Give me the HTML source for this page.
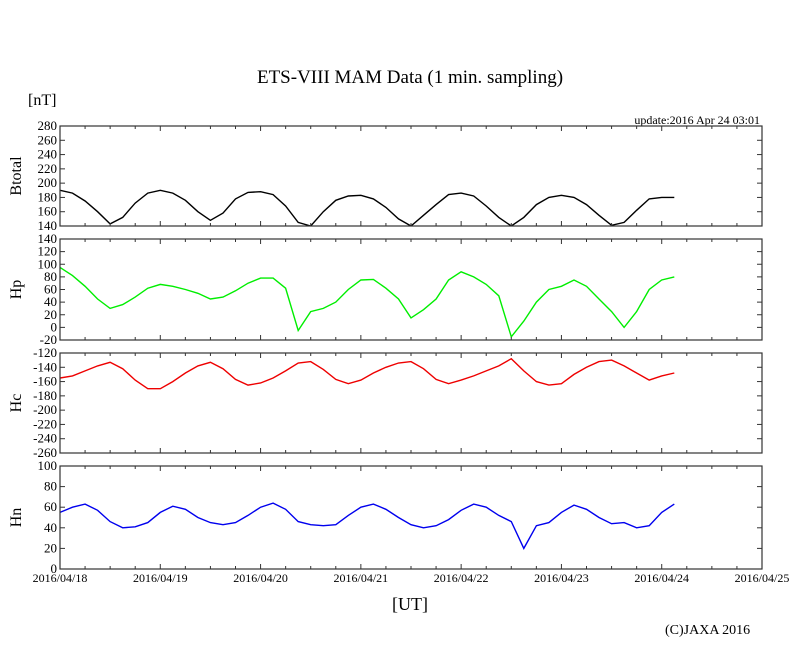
<!DOCTYPE html>
<html><head><meta charset="utf-8"><style>body{margin:0;background:#fff}svg{display:block}text{font-family:"Liberation Serif",serif;fill:#000}</style></head>
<body>
<svg id="c" width="810" height="655"></svg>
<script>
const tVals=[0,.125,.25,.375,.5,.625,.75,.875,1,1.125,1.25,1.375,1.5,1.625,1.75,1.875,2,2.125,2.25,2.375,2.5,2.625,2.75,2.875,3,3.125,3.25,3.375,3.5,3.625,3.75,3.875,4,4.125,4.25,4.375,4.5,4.625,4.75,4.875,5,5.125,5.25,5.375,5.5,5.625,5.75,5.875,6,6.125];
const btotal=[190,186,175,160,143,152,172,186,190,186,176,160,148,158,178,187,188,184,168,145,140,160,176,182,183,178,166,150,140,155,170,184,186,182,168,152,140,152,170,180,183,180,170,155,141,145,162,178,180,180];
const hp=[95,82,65,45,30,36,48,62,68,65,60,54,45,48,58,70,78,78,62,-5,25,30,40,60,75,76,62,45,15,28,45,75,88,80,68,50,-15,10,40,60,65,75,65,45,25,0,25,60,75,80];
const hc=[-155,-152,-145,-138,-133,-142,-158,-170,-170,-160,-148,-138,-133,-142,-157,-165,-162,-155,-145,-134,-132,-143,-157,-163,-158,-148,-140,-134,-132,-142,-157,-163,-158,-152,-145,-138,-128,-145,-160,-165,-163,-150,-140,-132,-130,-138,-148,-158,-152,-148];
const hn=[55,60,63,57,46,40,41,45,55,61,58,50,45,43,45,52,60,64,58,46,43,42,43,52,60,63,58,50,43,40,42,48,57,63,60,52,46,20,42,45,55,62,58,50,44,45,40,42,55,63];
const dayLabels=["2016/04/18","2016/04/19","2016/04/20","2016/04/21","2016/04/22","2016/04/23","2016/04/24","2016/04/25"];
const panels=[
 {name:"Btotal",data:btotal,color:"#000",min:140,max:280,step:20,top:126,bot:226},
 {name:"Hp",data:hp,color:"#00ee00",min:-20,max:140,step:20,top:239,bot:340},
 {name:"Hc",data:hc,color:"#ee0000",min:-260,max:-120,step:20,top:353,bot:453},
 {name:"Hn",data:hn,color:"#0000ee",min:0,max:100,step:20,top:466,bot:569}];
const L=60,R=762,svg=document.getElementById('c'),NS="http://www.w3.org/2000/svg";
const xs=t=>L+t*(R-L)/7;
function mk(tag,a,txt){const e=document.createElementNS(NS,tag);for(const k in a)e.setAttribute(k,a[k]);if(txt!==undefined)e.textContent=txt;svg.appendChild(e);return e;}
function T(x,y,s,size,anchor,name,rot){const e=mk('text',{x:x,y:y,'font-size':size,'text-anchor':anchor||'start'},s);if(rot)e.setAttribute('transform',`rotate(-90 ${x} ${y})`);

return e;}
T(410,83,"ETS-VIII MAM Data (1 min. sampling)",19,'middle','chart-title');
T(28,105,"[nT]",16,'start','unit-label');
T(760,124,"update:2016 Apr 24 03:01",12,'end','update-time');
T(410,610,"[UT]",18,'middle','x-axis-title');
T(665,634,"(C)JAXA 2016",14,'start','copyright');
panels.forEach((p,pi)=>{
 const ys=v=>p.bot-(v-p.min)/(p.max-p.min)*(p.bot-p.top);
 const cid='clip'+pi;
 const cp=mk('clipPath',{id:cid});const r=document.createElementNS(NS,'rect');r.setAttribute('x',L);r.setAttribute('y',p.top);r.setAttribute('width',R-L);r.setAttribute('height',p.bot-p.top);cp.appendChild(r);
 let d="";tVals.forEach((t,i)=>{d+=(i?"L":"M")+xs(t).toFixed(1)+","+ys(p.data[i]).toFixed(1);});
 const ln=mk('path',{d:d,fill:'none',stroke:p.color,'stroke-width':1.4,'clip-path':`url(#${cid})`});
 
 
 const fr=mk('rect',{x:L,y:p.top,width:R-L,height:p.bot-p.top,fill:'none',stroke:'#333','stroke-width':1.2});
 
 
 for(let v=p.min;v<=p.max;v+=p.step){const y=ys(v);
  mk('line',{x1:L,x2:L+5,y1:y,y2:y,stroke:'#333'});mk('line',{x1:R,x2:R-5,y1:y,y2:y,stroke:'#333'});
  T(L-3,y+4,String(v),13,'end',p.name.toLowerCase()+'-y-tick');}
 for(let k=0;k<=28;k++){const x=xs(k/4),len=k%4?3:5;
  mk('line',{x1:x,x2:x,y1:p.top,y2:p.top+len,stroke:'#333'});mk('line',{x1:x,x2:x,y1:p.bot,y2:p.bot-len,stroke:'#333'});}
 T(21,(p.top+p.bot)/2,p.name,16,'middle',p.name.toLowerCase()+'-axis-title',true);
});
dayLabels.forEach((s,i)=>T(xs(i),582,s,12,'middle','x-tick-label'));
</script>
</body></html>
